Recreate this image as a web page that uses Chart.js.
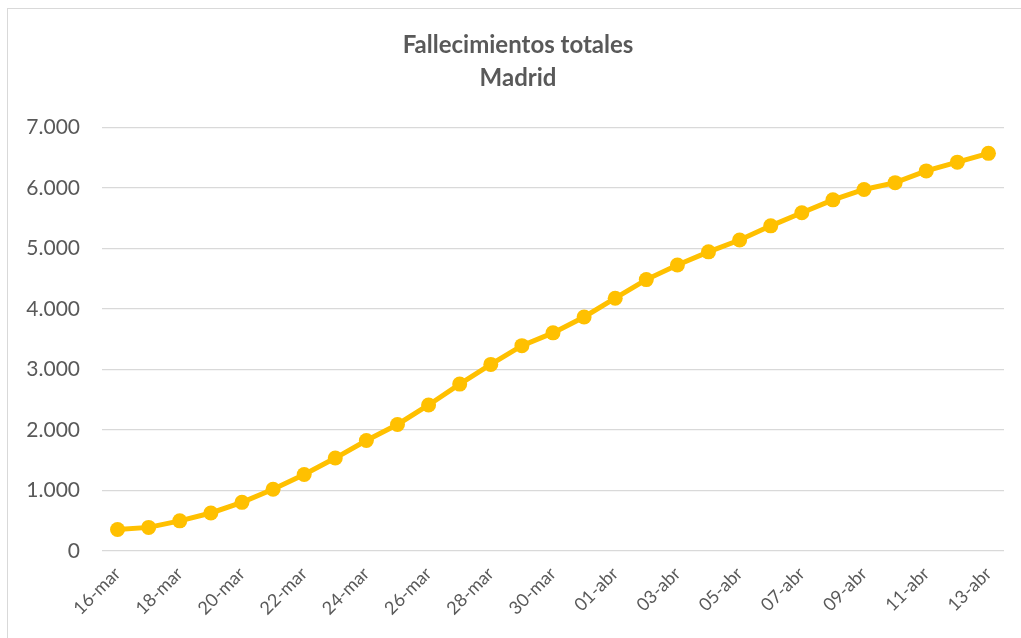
<!DOCTYPE html>
<html>
<head>
<meta charset="utf-8">
<script src="https://cdn.jsdelivr.net/npm/chart.js@4"></script>
<style>
  html, body { margin: 0; padding: 0; background: #fff; overflow: hidden; }
  #frame { position: absolute; left: 7px; top: 8px; width: 1100px; height: 700px; border: 1px solid #d9d9d9; }
  #wrap { position: absolute; left: 0; top: 0; width: 1021px; height: 638px; }
</style>
</head>
<body>
<div id="frame"></div>
<div id="wrap"><canvas id="chart" width="1021" height="638"></canvas></div>
<script>
// cumulative deaths, Comunidad de Madrid
var days = [
    "16-mar", "17-mar", "18-mar", "19-mar", "20-mar", "21-mar", "22-mar", "23-mar",
    "24-mar", "25-mar", "26-mar", "27-mar", "28-mar", "29-mar", "30-mar", "31-mar",
    "01-abr", "02-abr", "03-abr", "04-abr", "05-abr", "06-abr", "07-abr", "08-abr",
    "09-abr", "10-abr", "11-abr", "12-abr", "13-abr"
];
var deaths = [
    355, 390, 498, 628, 804, 1021, 1263, 1535,
    1825, 2090, 2412, 2757, 3082, 3392, 3603, 3865,
    4175, 4483, 4723, 4941, 5136, 5371, 5586, 5800,
    5972, 6084, 6278, 6423, 6568
];
var yTicks = [0, 1000, 2000, 3000, 4000, 5000, 6000, 7000];

var grey = "#595959";
var fontFamily = "Lato, 'Open Sans', sans-serif";

function fmt(v) {
    return v.toString().replace(/\B(?=(\d{3})+(?!\d))/g, ".");
}

// nudge the title a bit to the right, like in the original
var titleShift = {
    id: "titleShift",
    afterLayout: function (chart) {
        if (chart.titleBlock) {
            chart.titleBlock.left += 9;
            chart.titleBlock.right += 9;
        }
    },
};

var ctx = document.getElementById("chart").getContext("2d");

new Chart(ctx, {
    type: "line",
    data: {
        labels: days,
        datasets: [
            {
                label: "Fallecimientos",
                data: deaths,
                borderColor: "#FFC000",
                backgroundColor: "#FFC000",
                borderWidth: 5,
                pointRadius: 7.5,
                pointHoverRadius: 7.5,
                pointBorderWidth: 0,
                tension: 0,
            },
        ],
    },
    plugins: [titleShift],
    options: {
        responsive: false,
        animation: false,
        layout: {
            padding: { left: 14, right: 17, top: 28, bottom: 0 },
        },
        scales: {
            x: {
                offset: true,
                grid: { display: false },
                border: { display: false },
                afterFit: function (scale) {
                    scale.height = 87;
                },
                ticks: {
                    autoSkip: false,
                    maxRotation: 45,
                    minRotation: 45,
                    color: grey,
                    padding: 4,
                    font: { family: fontFamily, size: 18 },
                    callback: function (value, index) {
                        return index % 2 === 0 ? days[index] : "";
                    },
                },
            },
            y: {
                min: 0,
                max: 7000,
                afterBuildTicks: function (scale) {
                    scale.ticks = yTicks.map(function (v) {
                        return { value: v };
                    });
                },
                afterFit: function (scale) {
                    scale.width = 88;
                },
                grid: {
                    color: "#d9d9d9",
                    lineWidth: 1.3,
                    drawTicks: false,
                },
                border: { display: false },
                ticks: {
                    color: grey,
                    padding: 22,
                    font: { family: fontFamily, size: 21 },
                    callback: function (value) {
                        return fmt(value);
                    },
                },
            },
        },
        plugins: {
            legend: { display: false },
            tooltip: { enabled: false },
            title: {
                display: true,
                text: ["Fallecimientos totales", "Madrid"],
                color: grey,
                font: { family: fontFamily, size: 24, weight: "bold", lineHeight: 1.4 },
                padding: { top: 0, bottom: 32 },
            },
        },
    },
});
</script>
</body>
</html>
